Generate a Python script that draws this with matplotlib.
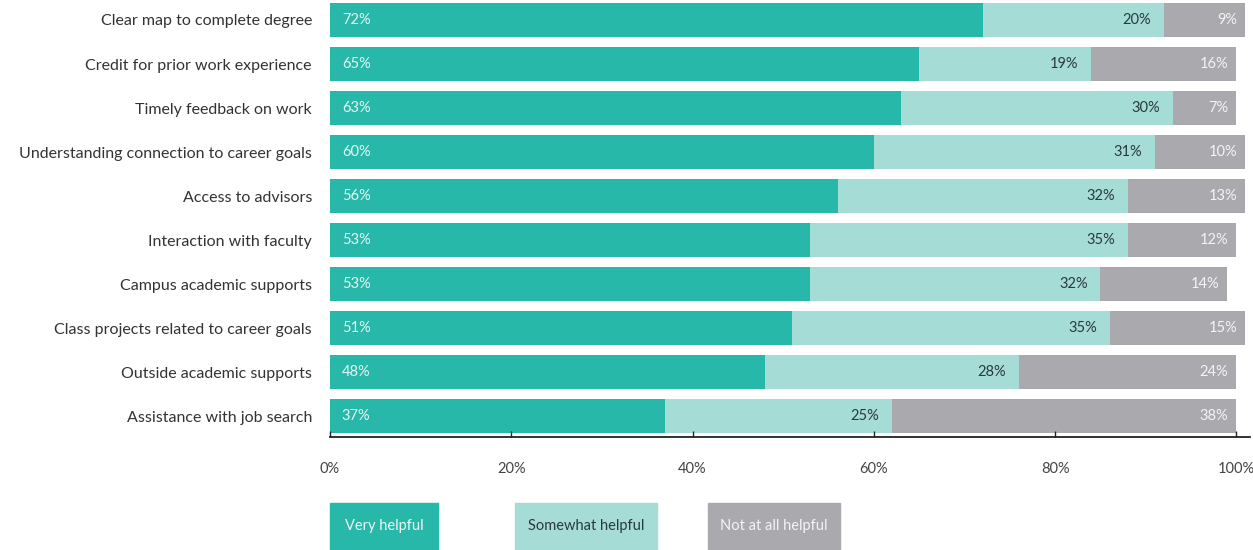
import matplotlib
matplotlib.use("Agg")
import matplotlib.pyplot as plt
from matplotlib.patches import Rectangle

plt.rcParams['font.family'] = ['Lato', 'DejaVu Sans']

# Datos
categorias = [
    "Clear map to complete degree",
    "Credit for prior work experience",
    "Timely feedback on work",
    "Understanding connection to career goals",
    "Access to advisors",
    "Interaction with faculty",
    "Campus academic supports",
    "Class projects related to career goals",
    "Outside academic supports",
    "Assistance with job search",
]
muy_util = [72, 65, 63, 60, 56, 53, 53, 51, 48, 37]
algo_util = [20, 19, 30, 31, 32, 35, 32, 35, 28, 25]
nada_util = [9, 16, 7, 10, 13, 12, 14, 15, 24, 38]
ticks_x = [0, 20, 40, 60, 80, 100]
leyenda = ["Very helpful", "Somewhat helpful", "Not at all helpful"]

C_OSCURO = "#27b8aa"
C_CLARO = "#a5dcd5"
C_GRIS = "#a9a9ae"

fig = plt.figure(figsize=(12.53, 5.5), dpi=100)
ax = fig.add_axes([330 / 1253, 1 - 437 / 550, 920 / 1253, 437 / 550])

y = list(range(len(categorias)))
alto = 34 / 44
izq2 = [a for a in muy_util]
izq3 = [a + b for a, b in zip(muy_util, algo_util)]

ax.barh(y, muy_util, height=alto, color=C_OSCURO)
ax.barh(y, algo_util, left=izq2, height=alto, color=C_CLARO)
ax.barh(y, nada_util, left=izq3, height=alto, color=C_GRIS)

for i in y:
    ax.text(1.3, i, f"{muy_util[i]}%", ha="left", va="center",
            color="#e6f7f4", fontsize=10.5)
    ax.text(izq3[i] - 1.4, i, f"{algo_util[i]}%", ha="right", va="center",
            color="#2a3a3c", fontsize=10.5)
    ax.text(izq3[i] + nada_util[i] - 0.9, i, f"{nada_util[i]}%", ha="right",
            va="center", color="#f4f4f4", fontsize=10.5)

ax.set_xlim(0, 101.5)
ax.set_ylim(9.477, -0.4545)
ax.set_yticks(y)
ax.set_yticklabels(categorias, fontsize=11.5, color="#333333")
ax.set_xticks(ticks_x)
ax.set_xticklabels([f"{t}%" for t in ticks_x], fontsize=10.5, color="#444444")
ax.tick_params(axis="y", length=0, pad=13)
ax.tick_params(axis="x", direction="in", length=4, width=1, color="#222222", pad=18)
for s in ["top", "right", "left"]:
    ax.spines[s].set_visible(False)
ax.spines["bottom"].set_color("#222222")
ax.spines["bottom"].set_linewidth(1.3)

# Leyenda como cajas de color
cajas = [(330, 438, C_OSCURO, "#eef8f6"), (515, 657, C_CLARO, "#2a3a3c"),
         (708, 840, C_GRIS, "#f4f4f4")]
for (x0, x1, col, tcol), txt in zip(cajas, leyenda):
    fig.patches.append(Rectangle((x0 / 1253, 0), (x1 - x0) / 1253, 47 / 550,
                                 transform=fig.transFigure, color=col))
    fig.text((x0 + x1) / 2 / 1253, 24 / 550, txt, ha="center", va="center",
             color=tcol, fontsize=10.5)

fig.savefig("out.png", dpi=100)
